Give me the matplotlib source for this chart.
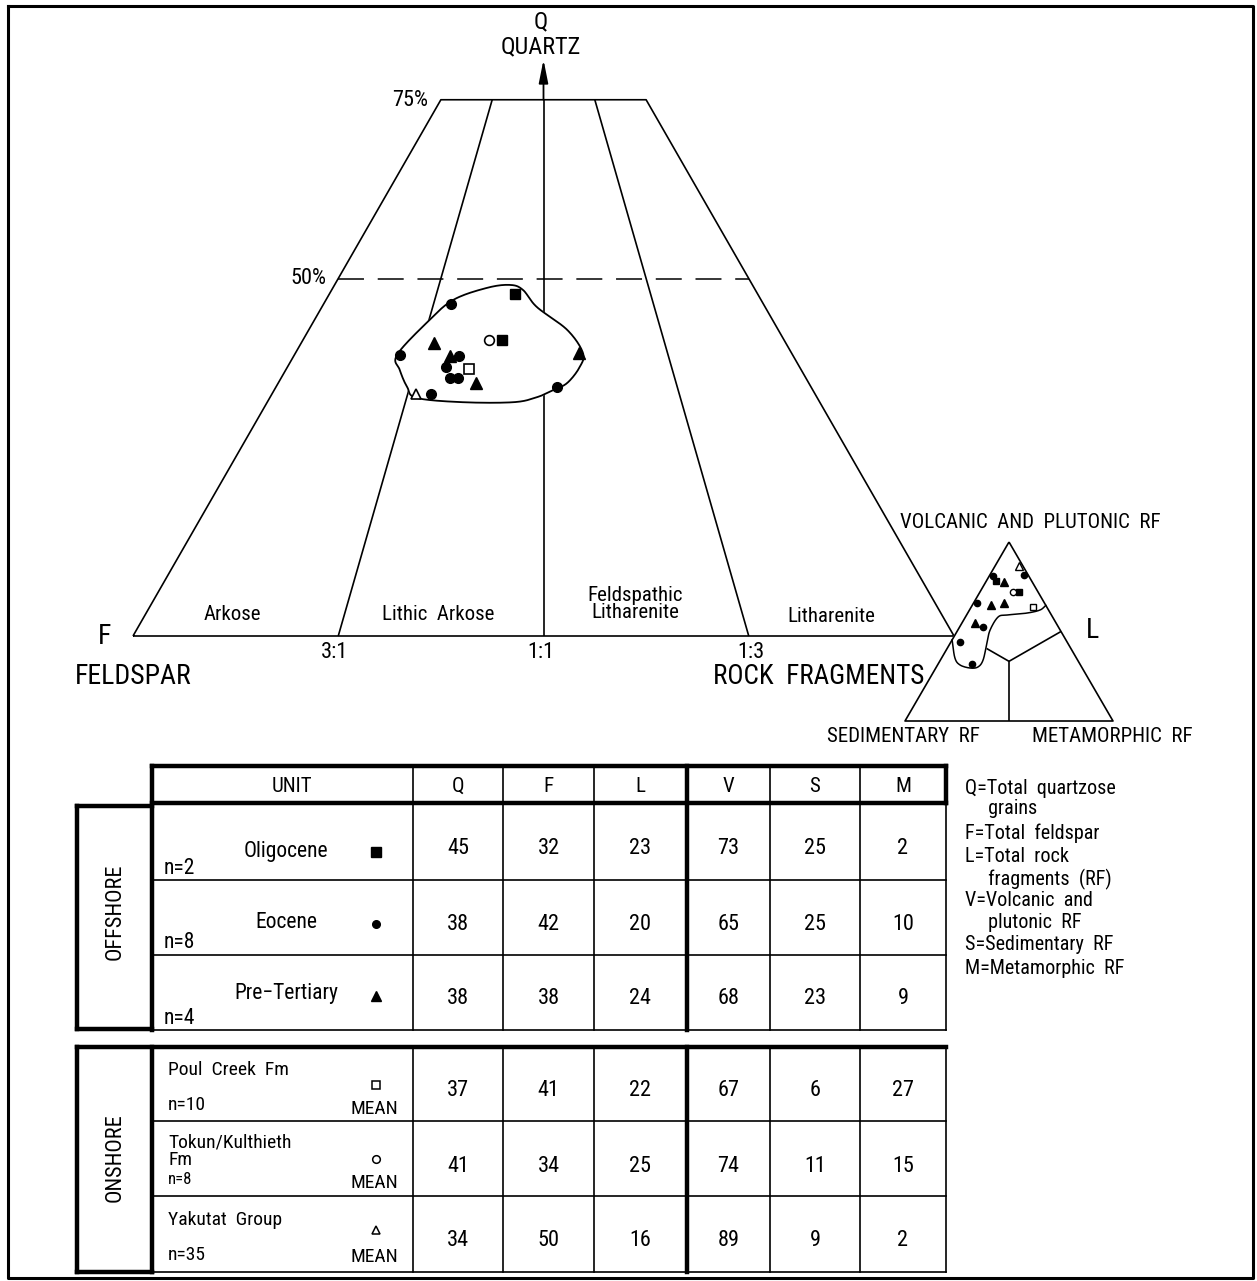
import numpy as np
import matplotlib
matplotlib.use('Agg')
import matplotlib.pyplot as plt
from matplotlib import font_manager

_have = {f.name for f in font_manager.fontManager.ttflist}
_pref = ['Liberation Sans Narrow', 'DejaVu Sans Condensed', 'Roboto Condensed', 'Liberation Sans']
plt.rcParams['font.family'] = [f for f in _pref if f in _have] + ['DejaVu Sans']

# ---- QFL plot points (percent) ----
oli_q = [47.8, 41.4]; oli_f = [29.6, 34.4]; oli_l = [22.6, 24.2]
eoc_q = [46.4, 39.3, 39.2, 37.6, 36.1, 36.1, 33.8, 34.8]
eoc_f = [38.1, 47.8, 40.7, 43.1, 43.3, 42.4, 46.8, 31.0]
eoc_l = [15.5, 12.9, 20.1, 19.3, 20.6, 21.5, 19.4, 34.2]
pre_q = [41.0, 39.2, 39.6, 35.4]; pre_f = [42.8, 41.8, 25.9, 40.5]; pre_l = [16.2, 19.0, 34.5, 24.1]
# onshore means: Poul Creek, Tokun/Kulthieth, Yakutat
mean_q = [37.3, 41.4, 33.8]; mean_f = [40.4, 35.9, 48.6]; mean_l = [22.3, 22.7, 17.6]

# envelope around QFL points (Q, L)
env_q = [39.3, 43.9, 47.0, 48.7, 49.1, 48.4, 46.0, 42.8, 39.6, 37.6, 35.4, 34.4, 33.4, 32.7, 32.7, 33.3, 34.8, 37.2]
env_l = [12.5, 13.9, 15.5, 18.8, 21.4, 23.3, 26.2, 31.5, 35.0, 35.6, 35.2, 34.0, 32.5, 30.0, 23.8, 17.9, 16.0, 13.9]

# ---- VSM plot points (percent) ----
oli_v = [78.2, 72.1]; oli_s = [17.1, 9.2]; oli_m = [4.7, 18.7]
eoc_v = [81.6, 81.0, 65.9, 52.5, 44.1, 31.8]
eoc_s = [2.0, 17.2, 32.4, 36.3, 51.5, 51.9]
eoc_m = [16.4, 1.8, 1.7, 11.2, 4.4, 16.3]
pre_v = [77.7, 64.8, 65.9, 54.7]; pre_s = [13.6, 26.3, 19.5, 39.0]; pre_m = [8.7, 8.9, 14.6, 6.3]
mean_v = [63.7, 72.1, 86.6]; mean_s = [6.6, 12.0, 1.9]; mean_m = [29.7, 15.9, 11.5]

senv_v = [45.3, 35.2, 31.3, 29.6, 30.2, 34.1, 43.6, 50.8, 58.1, 59.2, 60.3, 62.0, 64.6]
senv_m = [0.0, 6.4, 10.8, 16.5, 20.0, 20.5, 17.6, 15.5, 15.7, 19.4, 28.5, 33.9, 35.4]

# ---- table ----
off_units = ['Oligocene', 'Eocene', 'Pre\u2212Tertiary']
off_n = ['n=2', 'n=8', 'n=4']
off_vals = [[45, 32, 23, 73, 25, 2], [38, 42, 20, 65, 25, 10], [38, 38, 24, 68, 23, 9]]
on_units = ['Poul  Creek  Fm', 'Tokun/Kulthieth\nFm', 'Yakutat  Group']
on_n = ['n=10', 'n=8', 'n=35']
on_vals = [[37, 41, 22, 67, 6, 27], [41, 34, 25, 74, 11, 15], [34, 50, 16, 89, 9, 2]]
headers = ['UNIT', 'Q', 'F', 'L', 'V', 'S', 'M']
legend_lines = ['Q=Total  quartzose', '     grains', 'F=Total  feldspar', 'L=Total  rock',
                '     fragments  (RF)', 'V=Volcanic  and', '     plutonic  RF',
                'S=Sedimentary  RF', 'M=Metamorphic  RF']


def qfl_xy(q, f, l):
    q, f, l = np.asarray(q, float), np.asarray(f, float), np.asarray(l, float)
    s = q + f + l
    return 133 + 821 * (l / s + q / s / 2), 636 - 715 * q / s


def vsm_xy(v, s, m):
    v, s, m = np.asarray(v, float), np.asarray(s, float), np.asarray(m, float)
    t = v + s + m
    return 905 + 208 * (m / t + v / t / 2), 721 - 179 * v / t


def catmull(x, y, closed=True, n=20):
    P = np.column_stack([x, y])
    if not closed:
        P = np.vstack([2 * P[0] - P[1], P, 2 * P[-1] - P[-2]])
    N = len(P)
    rng = range(N) if closed else range(1, N - 2)
    t = np.linspace(0, 1, n, endpoint=False)[:, None]
    out = []
    for i in rng:
        p0, p1, p2, p3 = P[i - 1], P[i], P[(i + 1) % N], P[(i + 2) % N]
        out.append(0.5 * (2 * p1 + (-p0 + p2) * t + (2 * p0 - 5 * p1 + 4 * p2 - p3) * t ** 2
                          + (-p0 + 3 * p1 - 3 * p2 + p3) * t ** 3))
    out = np.vstack(out)
    end = out[:1] if closed else P[-2:-1]
    return np.vstack([out, end])


fig = plt.figure(figsize=(12.57, 12.81), dpi=100)
ax = fig.add_axes([0, 0, 1, 1])
ax.set_xlim(0, 1257); ax.set_ylim(1281, 0); ax.axis('off')
K = dict(color='k', lw=1.2, solid_capstyle='butt')

# outer frame
ax.plot([8, 1253, 1253, 8, 8], [6, 6, 1278, 1278, 6], color='k', lw=2.2)

# ---- big QFL trapezoid ----
x, y = qfl_xy([0, 75, 75, 0, 0], [100, 25, 0, 0, 100], [0, 0, 25, 100, 0])
ax.plot(x, y, zorder=2, **K)
for fb, lb in [(75, 25), (50, 50), (25, 75)]:
    x, y = qfl_xy([0, 75], [fb, fb / 4], [lb, lb / 4])
    ax.plot(x, y, zorder=2, **K)
x, y = qfl_xy([50, 50], [50, 0], [0, 50])
ax.plot(x, y, color='k', lw=1.1, dashes=(17, 9), zorder=2)
x, y = qfl_xy([75, 80.6], [12.5, 9.7], [12.5, 9.7])
ax.annotate('', xy=(x[1], y[1]), xytext=(x[0], y[0]),
            arrowprops=dict(arrowstyle='-|>,head_length=0.7,head_width=0.14', color='k',
                            lw=1.3, mutation_scale=20, shrinkA=0, shrinkB=0))

ex, ey = qfl_xy(env_q, 100 - np.array(env_q) - np.array(env_l), env_l)
cx = catmull(ex, ey)
ax.fill(cx[:, 0], cx[:, 1], color='white', zorder=3)
ax.plot(cx[:, 0], cx[:, 1], color='k', lw=1.3, zorder=4)

ms = 7
x, y = qfl_xy(oli_q, oli_f, oli_l); ax.plot(x, y, 's', color='k', ms=ms, zorder=5)
x, y = qfl_xy(eoc_q, eoc_f, eoc_l); ax.plot(x, y, 'o', color='k', ms=ms, zorder=5)
x, y = qfl_xy(pre_q, pre_f, pre_l); ax.plot(x, y, '^', color='k', ms=ms + 1, zorder=5)
x, y = qfl_xy(mean_q, mean_f, mean_l)
for xi, yi, mk in zip(x, y, ['s', 'o', '^']):
    ax.plot(xi, yi, mk, mfc='white', mec='k', mew=1.2, ms=ms, zorder=5)

# ---- small VSM triangle ----
for v2, s2, m2 in [(0, 50, 50), (50, 0, 50), (50, 50, 0)]:
    x, y = vsm_xy([100 / 3, v2], [100 / 3, s2], [100 / 3, m2])
    ax.plot(x, y, zorder=2, **K)
sv = np.array(senv_v); sm = np.array(senv_m)
sx, sy = vsm_xy(sv, 100 - sv - sm, sm)
sc = catmull(sx, sy, closed=False, n=12)
ax2, ay2 = vsm_xy([100], [0], [0])
ax.fill(np.r_[sc[:, 0], ax2], np.r_[sc[:, 1], ay2], color='white', zorder=3)
ax.plot(sc[:, 0], sc[:, 1], color='k', lw=1.1, zorder=4)
x, y = vsm_xy([100, 0, 0, 100], [0, 100, 0, 0], [0, 0, 100, 0])
ax.plot(x, y, zorder=4, **K)

sms = 4.5
x, y = vsm_xy(oli_v, oli_s, oli_m); ax.plot(x, y, 's', color='k', ms=sms, zorder=5)
x, y = vsm_xy(eoc_v, eoc_s, eoc_m); ax.plot(x, y, 'o', color='k', ms=sms, zorder=5)
x, y = vsm_xy(pre_v, pre_s, pre_m); ax.plot(x, y, '^', color='k', ms=sms + 1, zorder=5)
x, y = vsm_xy(mean_v, mean_s, mean_m)
for xi, yi, mk in zip(x, y, ['s', 'o', '^']):
    ax.plot(xi, yi, mk, mfc='white', mec='k', mew=1.0, ms=sms + (1 if mk == '^' else 0), zorder=5)

# ---- diagram labels ----
T = dict(color='k', ha='center', va='center')
ax.text(541, 22, 'Q', fontsize=17, **T)
ax.text(541, 47, 'QUARTZ', fontsize=17.5, **T)
ax.text(428, 100, '75%', fontsize=16, ha='right', va='center')
ax.text(326, 278, '50%', fontsize=16, ha='right', va='center')
ax.text(105, 636, 'F', fontsize=20, **T)
ax.text(75, 677, 'FELDSPAR', fontsize=20, ha='left', va='center')
ax.text(713, 677, 'ROCK  FRAGMENTS', fontsize=19.5, ha='left', va='center')
ax.text(1093, 630, 'L', fontsize=20, **T)
for xx, lab in [(334, '3:1'), (541, '1:1'), (751, '1:3')]:
    ax.text(xx, 652, lab, fontsize=16, **T)
ax.text(232, 615, 'Arkose', fontsize=15, **T)
ax.text(438, 615, 'Lithic  Arkose', fontsize=15, **T)
ax.text(635, 604, 'Feldspathic\nLitharenite', fontsize=15, linespacing=0.9, **T)
ax.text(831, 616, 'Litharenite', fontsize=15, **T)
ax.text(1030, 523, 'VOLCANIC  AND  PLUTONIC  RF', fontsize=15, **T)
ax.text(903, 736, 'SEDIMENTARY  RF', fontsize=15, **T)
ax.text(1112, 736, 'METAMORPHIC  RF', fontsize=15, **T)

# ---- table ----
cols = [152, 413, 503, 594, 687, 770, 860, 946]
thin, thick = 1.2, 3.2


def hline(yv, x0, x1, lw):
    ax.plot([x0, x1], [yv, yv], color='k', lw=lw, solid_capstyle='projecting')


def vline(xv, y0, y1, lw):
    ax.plot([xv, xv], [y0, y1], color='k', lw=lw, solid_capstyle='projecting')


off_rows = [803, 880, 955, 1030]
on_rows = [1047, 1121, 1196, 1272]

# header box
hline(766, 152, 946, thick); hline(803, 152, 946, thick)
vline(946, 766, 803, thick)
for c in cols[1:-1]:
    vline(c, 766, 1030, thick if c == 687 else thin)
vline(946, 803, 1030, thin)
vline(152, 766, 1030, thick)
for r in off_rows[1:]:
    hline(r, 152, 946, thin)
# offshore box
hline(806, 77, 152, thick); hline(1029, 77, 152, thick); vline(77, 806, 1029, thick)

# onshore
hline(1047, 77, 946, thick)
for c in cols[1:-1]:
    vline(c, 1047, 1272, thick if c == 687 else thin)
vline(946, 1047, 1272, thin)
vline(152, 1047, 1272, thick)
for r in on_rows[1:3]:
    hline(r, 152, 946, thin)
hline(1272, 152, 946, thin)
hline(1272, 77, 152, thick); vline(77, 1047, 1272, thick)

hx = [292] + [(cols[i] + cols[i + 1]) / 2 for i in range(1, 7)]
for xx, h in zip(hx, headers):
    ax.text(xx, 786, h, fontsize=15, **T)

ax.text(115, 912, 'OFFSHORE', fontsize=16, rotation=90, **T)
ax.text(115, 1158, 'ONSHORE', fontsize=16, rotation=90, **T)

vx = [(cols[i] + cols[i + 1]) / 2 for i in range(1, 7)]
sym = ['s', 'o', '^']
off_name_y = [851, 922, 994]
off_mark_y = [852, 924, 996]
off_n_y = [868, 942, 1018]
off_val_y = [849, 924, 998]
for i in range(3):
    ax.text(286, off_name_y[i], off_units[i], fontsize=15.5, **T)
    ax.text(164, off_n_y[i], off_n[i], fontsize=15.5, ha='left', va='center')
    ax.plot(376, off_mark_y[i], sym[i], color='k', ms=6.5 if sym[i] != 'o' else 5.5)
    for xx, v in zip(vx, off_vals[i]):
        ax.text(xx, off_val_y[i], str(v), fontsize=16, **T)

on_name_y = [1070, 1151, 1220]
on_n_y = [1105, 1180, 1255]
on_mark_y = [1085, 1159, 1230]
on_mean_y = [1109, 1183, 1257]
on_val_y = [1090, 1167, 1240]
for i in range(3):
    ax.text(168, on_name_y[i], on_units[i], fontsize=14, ha='left', va='center', linespacing=0.95)
    ax.text(168, on_n_y[i], on_n[i], fontsize=14 if i != 1 else 12, ha='left', va='center')
    ax.plot(376, on_mark_y[i], sym[i], mfc='white', mec='k', mew=1.1, ms=5.5)
    ax.text(374, on_mean_y[i], 'MEAN', fontsize=14, **T)
    for xx, v in zip(vx, on_vals[i]):
        ax.text(xx, on_val_y[i], str(v), fontsize=16, **T)

ly = [789, 809, 833, 857, 879, 901, 922, 945, 969]
for yy, s in zip(ly, legend_lines):
    ax.text(965, yy, s, fontsize=14.5, ha='left', va='center', linespacing=1.0)

plt.savefig('out.png', dpi=100)
